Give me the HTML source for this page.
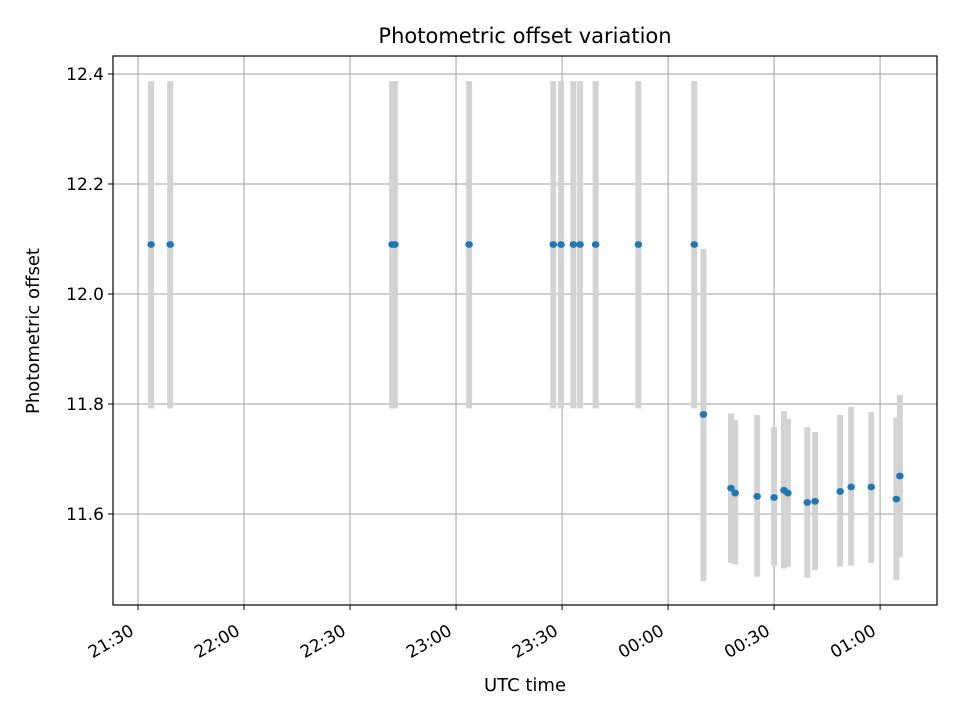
<!DOCTYPE html>
<html><head><meta charset="utf-8"><style>
body{margin:0;background:#fff;font-family:"Liberation Sans","DejaVu Sans",sans-serif}
svg text{font-family:"DejaVu Sans","Liberation Sans",sans-serif}
</style></head><body>
<svg id="chart" width="960" height="720" xmlns="http://www.w3.org/2000/svg">
<rect width="960" height="720" fill="#fff"/>
<g id="grid"></g><g id="bars"></g><g id="pts"></g><g id="axes"></g>
</svg>
<script>
// minutes since 21:00
const times=[33.7,39.1,101.9,102.7,123.7,147.5,149.7,153.2,155.1,159.5,171.6,187.4,190.0,197.8,199.0,205.2,210.0,212.8,213.9,219.4,221.6,228.7,231.8,237.5,244.6,245.6];
const values=[12.09,12.09,12.09,12.09,12.09,12.09,12.09,12.09,12.09,12.09,12.09,12.09,11.781,11.647,11.638,11.632,11.630,11.643,11.638,11.621,11.623,11.641,11.649,11.649,11.627,11.669];
const errHigh=[12.387,12.387,12.387,12.387,12.387,12.387,12.387,12.387,12.387,12.387,12.387,12.387,12.082,11.783,11.771,11.780,11.758,11.787,11.773,11.758,11.749,11.780,11.795,11.785,11.775,11.816];
const errLow=[11.792,11.792,11.792,11.792,11.792,11.792,11.792,11.792,11.792,11.792,11.792,11.792,11.478,11.511,11.508,11.486,11.506,11.501,11.504,11.484,11.498,11.504,11.506,11.511,11.480,11.521];
const yTicks=[11.6,11.8,12.0,12.2,12.4];
const xTickMinutes=[30,60,90,120,150,180,210,240];
const xTickLabels=["21:30","22:00","22:30","23:00","23:30","00:00","00:30","01:00"];
const L=113,R=937,T=56,B=605;
const xMin=22.92,xMax=256.1,yMin=11.4345,yMax=12.4327;
const X=m=>L+(m-xMin)/(xMax-xMin)*(R-L);
const Y=v=>B-(v-yMin)/(yMax-yMin)*(B-T);
const NS="http://www.w3.org/2000/svg";
function mk(p,tag,at){const e=document.createElementNS(NS,tag);for(const k in at)e.setAttribute(k,at[k]);document.getElementById(p).appendChild(e);return e;}
yTicks.forEach((v,i)=>{
 const g=mk('grid','line',{x1:L,x2:R,y1:Y(v),y2:Y(v),stroke:'#b0b0b0','stroke-width':1.2});
 
 
 mk('axes','line',{x1:L-5,x2:L,y1:Y(v),y2:Y(v),stroke:'#000','stroke-width':1});
 const t=mk('axes','text',{x:L-9,y:Y(v)+6,'text-anchor':'end','font-size':17});
 t.textContent=v.toFixed(1);
 
 
});
xTickMinutes.forEach((m,i)=>{
 const x=X(m);
 const g=mk('grid','line',{x1:x,x2:x,y1:T,y2:B,stroke:'#b0b0b0','stroke-width':1.2});
 
 
 mk('axes','line',{x1:x,x2:x,y1:B,y2:B+5,stroke:'#000','stroke-width':1});
 const ax=x-3, ay=B+29;
 const t=mk('axes','text',{x:ax,y:ay,'text-anchor':'end','font-size':17,transform:`rotate(-30 ${ax} ${ay})`});
 t.textContent=xTickLabels[i];
 
 
});
times.forEach((m,i)=>{
 const b=mk('bars','line',{x1:X(m),x2:X(m),y1:Y(errHigh[i]),y2:Y(errLow[i]),stroke:'#d3d3d3','stroke-width':6});
 
 
 const c=mk('pts','ellipse',{cx:X(m),cy:Y(values[i]),rx:3.8,ry:3.4,fill:'#1f77b4'});
 
 
});
const f=mk('axes','rect',{x:L,y:T,width:R-L,height:B-T,fill:'none',stroke:'#000','stroke-width':1.2});


const tt=mk('axes','text',{x:525,y:43,'text-anchor':'middle','font-size':21});
tt.textContent='Photometric offset variation';


const xl=mk('axes','text',{x:525,y:691,'text-anchor':'middle','font-size':18});
xl.textContent='UTC time';


const yl=mk('axes','text',{x:39,y:331,'text-anchor':'middle','font-size':18,transform:'rotate(-90 39 331)'});
yl.textContent='Photometric offset';


</script>
</body></html>
